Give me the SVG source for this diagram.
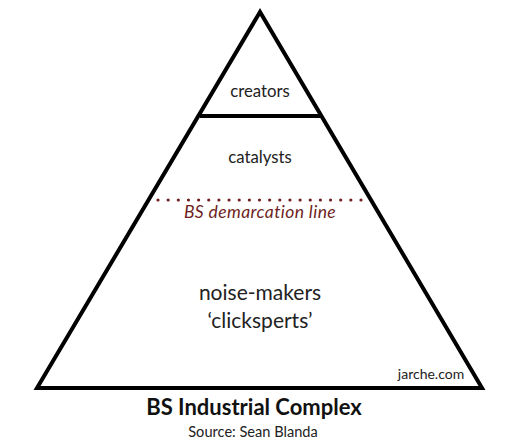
<svg xmlns="http://www.w3.org/2000/svg" width="531" height="442" viewBox="0 0 531 442">
<style>
.t{font-family:Lato,"Open Sans","Liberation Sans",sans-serif;fill:#222;text-anchor:middle}
.shape{fill:#fff;stroke:#000;stroke-width:4;stroke-linejoin:miter}
.red{fill:#6e1f24}
</style>
<rect width="531" height="442" fill="#fff"/>
<g id="pyramid">
<polygon class="shape" points="260,12 37,388 482,388"/>
</g>
<g id="connectors">
<line x1="200" y1="116" x2="320" y2="116" stroke="#000" stroke-width="4"/>
</g>
<g id="creators"><text class="t" x="260" y="97" font-size="16.8">creators</text></g>
<g id="catalysts"><text class="t" x="260" y="163" font-size="16.8">catalysts</text></g>
<g id="demarcation">
<g class="red">
<circle cx="158" cy="200" r="1.6"/><circle cx="168.15" cy="200" r="1.6"/><circle cx="178.3" cy="200" r="1.6"/><circle cx="188.45" cy="200" r="1.6"/><circle cx="198.6" cy="200" r="1.6"/><circle cx="208.75" cy="200" r="1.6"/><circle cx="218.9" cy="200" r="1.6"/><circle cx="229.05" cy="200" r="1.6"/><circle cx="239.2" cy="200" r="1.6"/><circle cx="249.35" cy="200" r="1.6"/><circle cx="259.5" cy="200" r="1.6"/><circle cx="269.65" cy="200" r="1.6"/><circle cx="279.8" cy="200" r="1.6"/><circle cx="289.95" cy="200" r="1.6"/><circle cx="300.1" cy="200" r="1.6"/><circle cx="310.25" cy="200" r="1.6"/><circle cx="320.4" cy="200" r="1.6"/><circle cx="330.55" cy="200" r="1.6"/><circle cx="340.7" cy="200" r="1.6"/><circle cx="350.85" cy="200" r="1.6"/><circle cx="361" cy="200" r="1.6"/>
</g>
<text class="t" x="260" y="218" font-size="17.5" font-style="italic" letter-spacing="0.4" style="fill:#6e1f24">BS demarcation line</text>
</g>
<g id="noise-makers">
<text class="t" x="260" y="300" font-size="21">noise-makers</text>
<text class="t" x="260" y="328" font-size="21">‘clicksperts’</text>
</g>
<g id="credit"><text class="t" x="431" y="379" font-size="14">jarche.com</text></g>
<g id="title">
<text class="t" x="254" y="415" font-size="22" font-weight="bold" style="fill:#111">BS Industrial Complex</text>
<text class="t" x="253" y="437" font-size="14.6">Source: Sean Blanda</text>
</g>
</svg>
